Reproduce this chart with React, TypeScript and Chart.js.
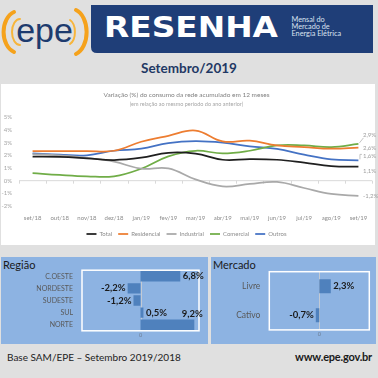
import React, { useEffect, useRef } from 'react';
import { Chart, registerables } from 'chart.js';
Chart.register(...registerables);

// ---------- data ----------
const months = ['set/18', 'out/18', 'nov/18', 'dez/18', 'jan/19', 'fev/19', 'mar/19', 'abr/19', 'mai/19', 'jun/19', 'jul/19', 'ago/19', 'set/19'];
const total = [1.9, 1.87, 1.76, 1.63, 1.81, 2.2, 2.13, 1.65, 1.7, 1.65, 1.42, 1.15, 1.1];
const residencial = [2.34, 2.34, 2.34, 2.36, 3.07, 3.54, 3.95, 3.1, 3.15, 2.78, 2.65, 2.52, 2.6];
const industrial = [2.1, 2.0, 1.8, 1.5, 0.95, 0.97, 0.1, -0.45, -0.26, -0.1, -0.58, -1.05, -1.2];
const comercial = [0.6, 0.45, 0.34, 0.34, 0.94, 1.92, 2.36, 2.15, 2.36, 2.78, 2.78, 2.65, 2.9];
const outros = [2.15, 2.05, 2.0, 2.36, 2.52, 2.97, 3.12, 3.0, 2.7, 2.5, 2.05, 1.68, 1.6];
const yTicks = [-2, -1, 0, 1, 2, 3, 4, 5];

const regioes = ['C.OESTE', 'NORDESTE', 'SUDESTE', 'SUL', 'NORTE'];
const regiaoValores = [6.8, -2.2, -1.2, 0.5, 9.2];
const mercados = ['Livre', 'Cativo'];
const mercadoValores = [2.3, -0.7];

const FONT = 'Lato, "Open Sans", sans-serif';
const fmt = (v: number) => v.toFixed(1).replace('.', ',') + '%';

// ---------- plugins ----------
const zeroAxisPlugin = {
  id: 'zeroAxis',
  beforeDatasetsDraw(chart: any) {
    const { ctx, chartArea: a, scales } = chart;
    const y0 = scales.y.getPixelForValue(0);
    const n = chart.data.labels.length;
    ctx.save();
    ctx.strokeStyle = '#d9d9d9';
    ctx.lineWidth = 1;
    ctx.beginPath();
    ctx.moveTo(a.left, y0);
    ctx.lineTo(a.right, y0);
    for (let i = 0; i <= n; i++) {
      const px = Math.round(a.left + ((a.right - a.left) * i) / n) + 0.5;
      ctx.moveTo(px, y0);
      ctx.lineTo(px, y0 + 3);
    }
    ctx.stroke();
    ctx.restore();
  },
};

const endLabelOffsets: Record<string, number> = { Total: 4.5, Residencial: 0.5, Industrial: 0.5, Comercial: -9, Outros: -4 };

const endLabelPlugin = {
  id: 'endLabels',
  afterDatasetsDraw(chart: any) {
    const { ctx } = chart;
    ctx.save();
    ctx.font = `6px ${FONT}`;
    ctx.fillStyle = '#a0a0a0';
    ctx.strokeStyle = '#b5b5b5';
    ctx.lineWidth = 0.8;
    ctx.textBaseline = 'middle';
    ctx.textAlign = 'left';
    chart.data.datasets.forEach((ds: any, i: number) => {
      const meta = chart.getDatasetMeta(i);
      const pt = meta.data[meta.data.length - 1];
      const v = ds.data[ds.data.length - 1];
      const dy = endLabelOffsets[ds.label] || 0;
      const y = pt.y + dy;
      ctx.fillText(fmt(v), pt.x + 4.5, y);
      if (ds.label === 'Comercial') {
        ctx.beginPath();
        ctx.moveTo(pt.x + 1, pt.y - 1);
        ctx.lineTo(pt.x + 5, y + 3);
        ctx.stroke();
      }
      if (ds.label === 'Outros') {
        ctx.beginPath();
        ctx.moveTo(pt.x + 1.5, pt.y - 1);
        ctx.lineTo(pt.x + 1.5, y - 2);
        ctx.lineTo(pt.x + 3.5, y - 2);
        ctx.stroke();
      }
    });
    ctx.restore();
  },
};

const barDecorPlugin = {
  id: 'barDecor',
  beforeDatasetsDraw(chart: any) {
    const { ctx, chartArea: a, scales } = chart;
    const x0 = Math.round(scales.x.getPixelForValue(0)) + 0.5;
    ctx.save();
    ctx.strokeStyle = '#c3cad4';
    ctx.lineWidth = 1;
    ctx.beginPath();
    ctx.moveTo(x0, a.top);
    ctx.lineTo(x0, a.bottom);
    ctx.stroke();
    ctx.restore();
  },
  afterDatasetsDraw(chart: any) {
    const { ctx, chartArea: a } = chart;
    ctx.save();
    ctx.strokeStyle = '#ffffff';
    ctx.lineWidth = 1.5;
    ctx.strokeRect(a.left, a.top, a.right - a.left, a.bottom - a.top);
    const meta = chart.getDatasetMeta(0);
    const data = chart.data.datasets[0].data;
    ctx.font = `bold 9.5px ${FONT}`;
    ctx.fillStyle = '#1a1a1a';
    ctx.textBaseline = 'middle';
    meta.data.forEach((bar: any, i: number) => {
      const v = data[i];
      const t = fmt(v);
      const w = ctx.measureText(t).width;
      if (v >= 0) {
        if (bar.x + 3 + w > chart.width - 2) {
          ctx.textAlign = 'center';
          ctx.fillText(t, bar.x - 2, bar.y - 10.5);
        } else {
          ctx.textAlign = 'left';
          ctx.fillText(t, bar.x + 2.5, bar.y);
        }
      } else {
        ctx.textAlign = 'right';
        ctx.fillText(t, bar.x - 2, bar.y);
      }
    });
    ctx.restore();
  },
};

// ---------- charts ----------
function LineChart() {
  const ref = useRef<HTMLCanvasElement>(null);
  useEffect(() => {
    const series = [
      { label: 'Total', data: total, color: '#1f1f1f' },
      { label: 'Residencial', data: residencial, color: '#ed7d31' },
      { label: 'Industrial', data: industrial, color: '#a9a9a9' },
      { label: 'Comercial', data: comercial, color: '#70ad47' },
      { label: 'Outros', data: outros, color: '#4472c4' },
    ];
    const chart = new Chart(ref.current!, {
      type: 'line',
      data: {
        labels: months,
        datasets: series.map((s) => ({
          label: s.label,
          data: s.data,
          borderColor: s.color,
          backgroundColor: s.color,
          borderWidth: 1.75,
          pointRadius: 0,
          tension: 0.4,
          fill: false,
        })),
      },
      options: {
        animation: false,
        responsive: false,
        events: [],
        layout: { padding: { left: 0, right: 6, top: 0, bottom: 2 } },
        plugins: {
          title: {
            display: true,
            text: 'Variação (%) do consumo da rede acumulado em 12 meses',
            font: { family: FONT, size: 6.5, weight: 'normal' },
            color: '#7f7f7f',
            padding: { top: 7, bottom: 0 },
          },
          subtitle: {
            display: true,
            text: '(em relação ao mesmo período do ano anterior)',
            font: { family: FONT, size: 5.5 },
            color: '#a6a6a6',
            padding: { top: 2, bottom: 9.9 },
          },
          legend: {
            position: 'bottom',
            labels: {
              usePointStyle: true,
              pointStyle: 'line',
              pointStyleWidth: 10,
              font: { family: FONT, size: 6 },
              color: '#8c8c8c',
              padding: 6,
            },
          },
          tooltip: { enabled: false },
        },
        scales: {
          x: {
            offset: true,
            grid: { display: false, drawTicks: false },
            border: { display: false },
            ticks: { font: { family: FONT, size: 6 }, color: '#8c8c8c', padding: 8.4, maxRotation: 0, autoSkip: false },
            afterFit: (s: any) => { s.height = 19; },
          },
          y: {
            min: yTicks[0],
            max: yTicks[yTicks.length - 1],
            grid: { display: false, drawTicks: false },
            border: { display: false },
            ticks: { stepSize: 1, font: { family: FONT, size: 6 }, color: '#a6a6a6', padding: 7, callback: (v: any) => `${v}%` },
            afterFit: (s: any) => { s.width = 18; },
          },
        },
      } as any,
      plugins: [zeroAxisPlugin, endLabelPlugin],
    });
    return () => chart.destroy();
  }, []);
  return <canvas ref={ref} width={377} height={165} style={{ position: 'absolute', left: 1, top: 84, display: 'block' }} />;
}

function HBarChart(props: { labels: string[]; values: number[]; left: number; width: number; yWidth: number; padTop: number; padRight: number; xHeight: number; labelSize: number; barPct: number; labelPad: number }) {
  const ref = useRef<HTMLCanvasElement>(null);
  useEffect(() => {
    const chart = new Chart(ref.current!, {
      type: 'bar',
      data: {
        labels: props.labels,
        datasets: [{ data: props.values, backgroundColor: '#4f81bd', borderWidth: 0, barPercentage: props.barPct, categoryPercentage: 1 }],
      },
      options: {
        indexAxis: 'y',
        animation: false,
        responsive: false,
        events: [],
        layout: { padding: { left: 0, right: props.padRight, top: props.padTop, bottom: 0 } },
        plugins: { legend: { display: false }, tooltip: { enabled: false }, title: { display: false } },
        scales: {
          x: {
            min: -10,
            max: 10,
            grid: { display: false, drawTicks: false },
            border: { display: false },
            ticks: { stepSize: 10, font: { family: FONT, size: 5.5 }, color: '#6b7c93', padding: 1, maxRotation: 0, callback: (v: any) => (v === 0 ? '0' : '') },
            afterFit: (s: any) => { s.height = props.xHeight; },
          },
          y: {
            grid: { display: false, drawTicks: false },
            border: { display: false },
            ticks: { font: { family: FONT, size: props.labelSize }, color: '#595959', padding: props.labelPad },
            afterFit: (s: any) => { s.width = props.yWidth; },
          },
        },
      } as any,
      plugins: [barDecorPlugin],
    });
    return () => chart.destroy();
  }, []);
  return <canvas ref={ref} width={props.width} height={87} style={{ position: 'absolute', left: props.left, top: 257, display: 'block' }} />;
}

// ---------- app ----------
export default function App() {
  const abs = (o: any) => ({ position: 'absolute' as const, ...o });
  return (
    <div style={{ position: 'absolute', left: 0, top: 0, width: 378, height: 378, background: '#e0e0e0', overflow: 'hidden', fontFamily: FONT }}>
      {/* logo */}
      <svg style={abs({ left: 0, top: 0 })} width={90} height={60}>
        <path d="M14 12 A15 21 0 0 0 14 52" fill="none" stroke="#f5a21c" strokeWidth={4} strokeLinecap="round" />
        <path d="M20 19 A8 13 0 0 0 20 45" fill="none" stroke="#f7b53b" strokeWidth={2} strokeLinecap="round" />
        <path d="M76 10 A15 23 0 0 1 76 54" fill="none" stroke="#f5a21c" strokeWidth={4} strokeLinecap="round" />
        <path d="M70 20 A8 13 0 0 1 70 44" fill="none" stroke="#f7b53b" strokeWidth={2} strokeLinecap="round" />
        <text x={44.5} y={42} textAnchor="middle" fill="#1d3b6e" fontFamily="'Liberation Sans', Arial, sans-serif" fontSize={34}>epe</text>
      </svg>
      {/* banner */}
      <svg style={abs({ left: 91, top: 5 })} width={282} height={48}>
        <path d="M0 0 H282 V48 H6 Q0 48 0 42 Z" fill="#1f3e78" />
        <text x={13} y={32.3} fill="#ffffff" fontFamily="'DejaVu Sans', sans-serif" fontWeight="bold" fontSize={27.5} textLength={174} lengthAdjust="spacingAndGlyphs">RESENHA</text>
        <text x={200.5} y={16.6} fill="#dbe3f0" fontFamily={FONT} fontSize={7.3}>Mensal do</text>
        <text x={200.5} y={23.6} fill="#dbe3f0" fontFamily={FONT} fontSize={7.3}>Mercado de</text>
        <text x={200.5} y={30.9} fill="#dbe3f0" fontFamily={FONT} fontSize={7.3}>Energia Elétrica</text>
      </svg>
      {/* title */}
      <div style={abs({ left: 0, width: 378, top: 59, textAlign: 'center', fontSize: 13.5, fontWeight: 'bold', color: '#1f3864', lineHeight: '18px' })}>Setembro/2019</div>
      {/* line chart panel */}
      <div style={abs({ left: 1, top: 84, width: 374, height: 161, background: '#ffffff' })} />
      <LineChart />
      {/* bottom panels */}
      <div style={abs({ left: 1, top: 257, width: 207, height: 87, background: '#8db3e2' })} />
      <div style={abs({ left: 211, top: 257, width: 165, height: 87, background: '#8db3e2' })} />
      <div style={abs({ left: 3, top: 258, fontSize: 11, color: '#1a1a1a', lineHeight: '14px' })}>Região</div>
      <div style={abs({ left: 213, top: 258, fontSize: 11, color: '#1a1a1a', lineHeight: '14px' })}>Mercado</div>
      <HBarChart labels={regioes} values={regiaoValores} left={1} width={207} yWidth={81} padTop={8} padRight={9} xHeight={9} labelSize={7} barPct={0.85} labelPad={9} />
      <HBarChart labels={mercados} values={mercadoValores} left={211} width={165} yWidth={58.3} padTop={14.7} padRight={6.7} xHeight={10} labelSize={8.5} barPct={0.48} labelPad={9} />
      {/* footer */}
      <div style={abs({ left: 7, top: 350, fontSize: 10, color: '#222222', lineHeight: '14px' })}>Base SAM/EPE – Setembro 2019/2018</div>
      <div style={abs({ right: 6, top: 350, fontSize: 11, fontWeight: 'bold', color: '#1a1a1a', lineHeight: '14px', letterSpacing: -0.2 })}>www.epe.gov.br</div>
    </div>
  );
}
